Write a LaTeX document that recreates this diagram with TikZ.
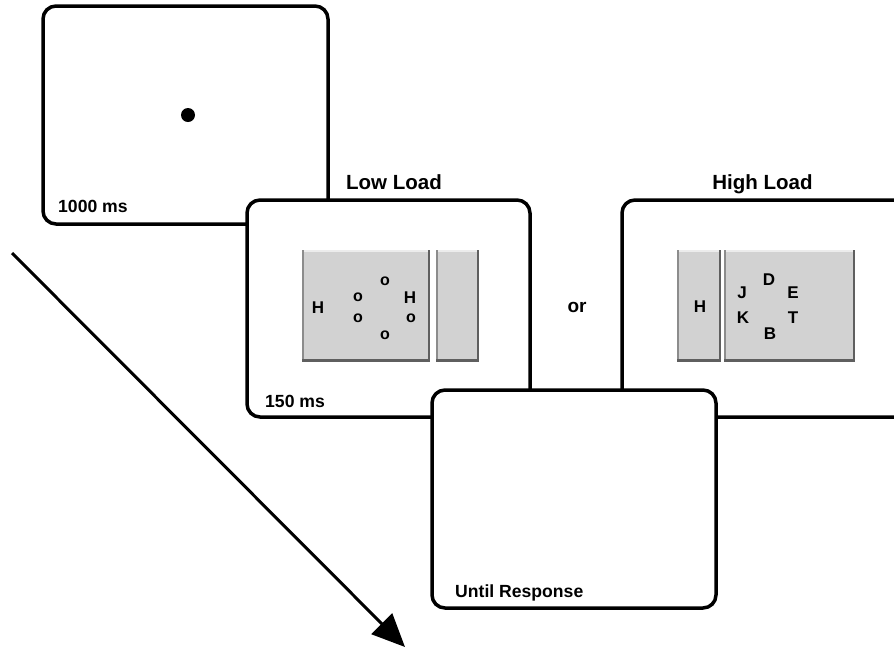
\documentclass[tikz,border=0pt]{standalone}
\usepackage{fontspec}
\setmainfont{Liberation Sans}
\usetikzlibrary{arrows.meta}
\definecolor{boxgray}{RGB}{210,210,210}
\definecolor{bevdark}{RGB}{95,95,95}
\definecolor{bevmid}{RGB}{140,140,140}
\definecolor{bevlight}{RGB}{236,236,236}
\begin{document}
\begin{tikzpicture}[x=1pt,y=-1pt,
  panel/.style={draw=black, line width=3.5pt, fill=white, rounded corners=13pt},
  lbl/.style={font=\bfseries\fontsize{17.6}{17.6}\selectfont, inner sep=0pt},
  title/.style={font=\bfseries\fontsize{20.5}{20.5}\selectfont, inner sep=0pt},
  let/.style={font=\bfseries\fontsize{17}{17}\selectfont, inner sep=0pt},
  circ/.style={font=\bfseries\fontsize{16}{16}\selectfont, inner sep=0pt},
  gbox/.style={fill=boxgray, draw=none, inner sep=0pt,
    path picture={
      \fill[bevlight] (path picture bounding box.north west) rectangle ([yshift=-2pt]path picture bounding box.north east);
      \fill[bevmid] (path picture bounding box.north west) rectangle ([xshift=2pt]path picture bounding box.south west);
      \fill[bevdark] ([xshift=-2.5pt]path picture bounding box.north east) rectangle (path picture bounding box.south east);
      \fill[bevdark] (path picture bounding box.south west) rectangle ([yshift=3.5pt]path picture bounding box.south east);
    }},
  arr/.style={line width=3pt, -{Triangle[length=33pt,width=29pt]}}
]
\useasboundingbox (0,0) rectangle (894,649);
\clip (0,0) rectangle (894,649);

% panel 1: fixation
\draw[panel] (43,6) rectangle (328,224);
\node[lbl, anchor=base west] (t1000) at (58,212) {1000 ms};
\fill (188,115) circle (7);
\node[inner sep=0pt, minimum size=0pt] (fix) at (188,115) {};

% panel 2: low load
\draw[panel] (247,200) rectangle (530,417);
\node[title, anchor=base] (low) at (394,189) {Low Load};
\node[gbox, minimum width=128pt, minimum height=112pt] (lowbig) at (366,306) {};
\node[gbox, minimum width=43pt, minimum height=112pt] (lowsmall) at (457.5,306) {};
\node[let] (lH1) at (318,307.5) {H};
\node[let] (lH2) at (410,298) {H};
\node[circ] (c1) at (385,281) {o};
\node[circ] (c2) at (358,297) {o};
\node[circ] (c3) at (358,318) {o};
\node[circ] (c4) at (385,335) {o};
\node[circ] (c5) at (411,318) {o};
\node[lbl, anchor=base west] (t150) at (265,407) {150 ms};

% or
\node[font=\bfseries\fontsize{19}{19}\selectfont, inner sep=0pt] (or) at (577,307) {or};

% panel 3: high load
\draw[panel] (622,200) rectangle (912,417);
\node[title, anchor=base] (high) at (762.5,189) {High Load};
\node[gbox, minimum width=44pt, minimum height=112pt] (highsmall) at (699,306) {};
\node[gbox, minimum width=131pt, minimum height=112pt] (highbig) at (789.5,306) {};
\node[let] (hH) at (700,307) {H};
\node[let] (hD) at (769,279.5) {D};
\node[let] (hJ) at (742,293) {J};
\node[let] (hE) at (793,293) {E};
\node[let] (hK) at (743,318) {K};
\node[let] (hT) at (793,318) {T};
\node[let] (hB) at (770,334) {B};

% panel 4: until response
\draw[panel] (432,390) rectangle (716,608);
\node[lbl, anchor=base west] (tuntil) at (455,597) {Until Response};

% time arrow
\coordinate (as) at (12,253);
\coordinate (ae) at (405,647);
\draw[arr] (as) -- (ae);
\end{tikzpicture}
\end{document}
